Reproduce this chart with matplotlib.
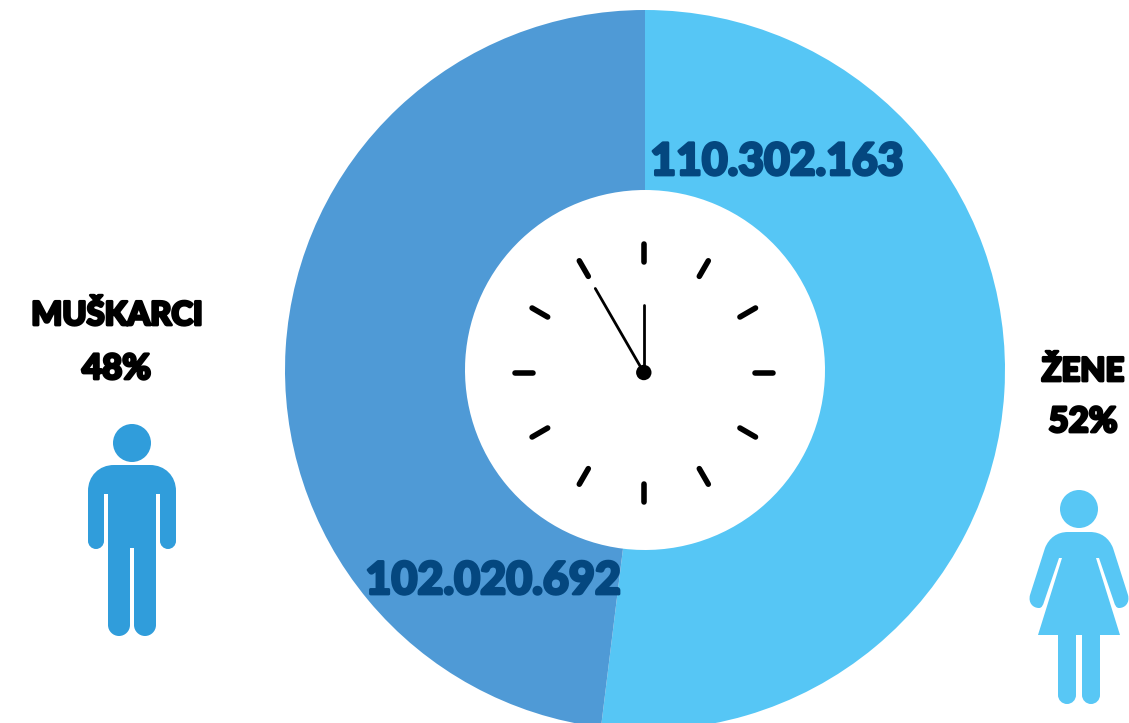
import numpy as np
import matplotlib
matplotlib.use('Agg')
import matplotlib.pyplot as plt
import matplotlib.patheffects as pe
from matplotlib.patches import Circle, PathPatch
from matplotlib.path import Path

# Data
labels = ['ŽENE', 'MUŠKARCI']
counts = [110302163, 102020692]
count_labels = ['110.302.163', '102.020.692']
shares = ['52%', '48%']
colors = ['#56C6F5', '#4F9AD6']
TEXT_DARK = '#04477F'
MAN_COLOR = '#309DDB'
WOMAN_COLOR = '#58C7F5'
H = 723


def flip(points):
    # Picture coordinates have y going down
    return [(x, H - y) for x, y in points]


def shape(ax, commands, color):
    # commands: list of (code, (x, y))
    codes = [c for c, _ in commands]
    verts = flip([p for _, p in commands])
    ax.add_patch(PathPatch(Path(verts, codes), fc=color, ec='none', zorder=3))


def round_end(x0, x1, y, r):
    # Rounded bottom of a limb, going left to right
    k = 0.55 * r
    return [
        (Path.CURVE4, (x0, y + k)), (Path.CURVE4, (x0 + r - k, y + r)), (Path.CURVE4, (x0 + r, y + r)),
        (Path.CURVE4, (x1 - r + k, y + r)), (Path.CURVE4, (x1, y + k)), (Path.CURVE4, (x1, y)),
    ]


def draw_man(ax):
    ax.add_patch(Circle((132, H - 443), 19, fc=MAN_COLOR, ec='none', zorder=3))
    m, l = Path.MOVETO, Path.LINETO
    c = Path.CURVE4
    cmds = [(m, (104, 494)), (l, (108, 494)), (l, (108, 625))]
    cmds += round_end(108, 130, 625, 11)
    cmds += [(l, (130, 548)), (l, (134, 548)), (l, (134, 625))]
    cmds += round_end(134, 156, 625, 11)
    cmds += [(l, (156, 494)), (l, (160, 494)), (l, (160, 541))]
    cmds += round_end(160, 176, 541, 8)
    cmds += [(l, (176, 491)), (c, (176, 476)), (c, (165, 465)), (c, (150, 465)),
             (l, (114, 465)), (c, (99, 465)), (c, (88, 476)), (c, (88, 491)),
             (l, (88, 541))]
    cmds += round_end(88, 104, 541, 8)
    cmds += [(l, (104, 494)), (Path.CLOSEPOLY, (104, 494))]
    shape(ax, cmds, MAN_COLOR)


def draw_woman(ax):
    ax.add_patch(Circle((1079, H - 509), 19, fc=WOMAN_COLOR, ec='none', zorder=3))
    m, l = Path.MOVETO, Path.LINETO
    c = Path.CURVE4
    cmds = [(m, (1068, 532)), (l, (1090, 532)),
            (c, (1101, 532)), (c, (1109, 538)), (c, (1113, 548)),
            (l, (1128, 595)), (c, (1130, 603)), (c, (1125, 608)), (c, (1119, 608)),
            (c, (1116, 608)), (c, (1115, 605)), (c, (1114, 602)),
            (l, (1099, 558)), (l, (1096, 558)), (l, (1120, 635)),
            (l, (1100, 635)), (l, (1100, 695))]
    # legs are walked right to left, so the ends are added by hand
    cmds += [(c, (1100, 700)), (c, (1096, 704)), (c, (1091, 704)),
             (c, (1086, 704)), (c, (1082, 700)), (c, (1082, 695)),
             (l, (1082, 635)), (l, (1076, 635)), (l, (1076, 695)),
             (c, (1076, 700)), (c, (1072, 704)), (c, (1067, 704)),
             (c, (1062, 704)), (c, (1058, 700)), (c, (1058, 695)),
             (l, (1058, 635)), (l, (1038, 635)), (l, (1062, 558)), (l, (1059, 558)),
             (l, (1044, 602)), (c, (1043, 605)), (c, (1042, 608)), (c, (1039, 608)),
             (c, (1033, 608)), (c, (1028, 603)), (c, (1030, 595)),
             (l, (1045, 548)), (c, (1049, 538)), (c, (1057, 532)), (c, (1068, 532)),
             (Path.CLOSEPOLY, (1068, 532))]
    shape(ax, cmds, WOMAN_COLOR)


def label(ax, x, y, s, size, color='black', stroke=1.0):
    t = ax.text(x, H - y, s, ha='center', va='baseline', fontsize=size, color=color,
                family=['Lato', 'DejaVu Sans'], fontweight='black', zorder=5)
    t.set_path_effects([pe.withStroke(linewidth=stroke, foreground=color, joinstyle='round')])


fig = plt.figure(figsize=(11.29, 7.23), dpi=100)
ax = fig.add_axes([0, 0, 1, 1])

# Donut
ax.pie(counts, colors=colors, startangle=90, counterclock=False, radius=360,
       center=(645, H - 370), wedgeprops={'width': 180, 'linewidth': 0})
ax.set_xlim(0, 1129)
ax.set_ylim(0, H)
ax.set_aspect('equal')
ax.axis('off')

# Clock
cx, cy = 643.8, H - 372.5
for a in np.radians(np.arange(0, 360, 30)):
    ax.plot([cx + 111 * np.sin(a), cx + 129 * np.sin(a)],
            [cy + 111 * np.cos(a), cy + 129 * np.cos(a)],
            color='black', lw=4.0, solid_capstyle='round', zorder=4)
for angle, length in [(0, 68), (-30, 97)]:
    a = np.radians(angle)
    ax.plot([cx, cx + length * np.sin(a)], [cy, cy + length * np.cos(a)],
            color='black', lw=2.0, solid_capstyle='round', zorder=4)
ax.add_patch(Circle((cx, cy), 7.7, fc='black', ec='none', zorder=4))

# Text
label(ax, 777, 175, count_labels[0], 32, TEXT_DARK, 2.0)
label(ax, 493, 594, count_labels[1], 32.3, TEXT_DARK, 2.0)
label(ax, 117, 325, labels[1], 23.5, stroke=2.0)
label(ax, 116.5, 379, shares[1], 25, stroke=2.0)
label(ax, 1083, 381, labels[0], 23.5, stroke=2.0)
label(ax, 1083, 432, shares[0], 25, stroke=2.0)

draw_man(ax)
draw_woman(ax)

fig.savefig('out.png', dpi=100)
